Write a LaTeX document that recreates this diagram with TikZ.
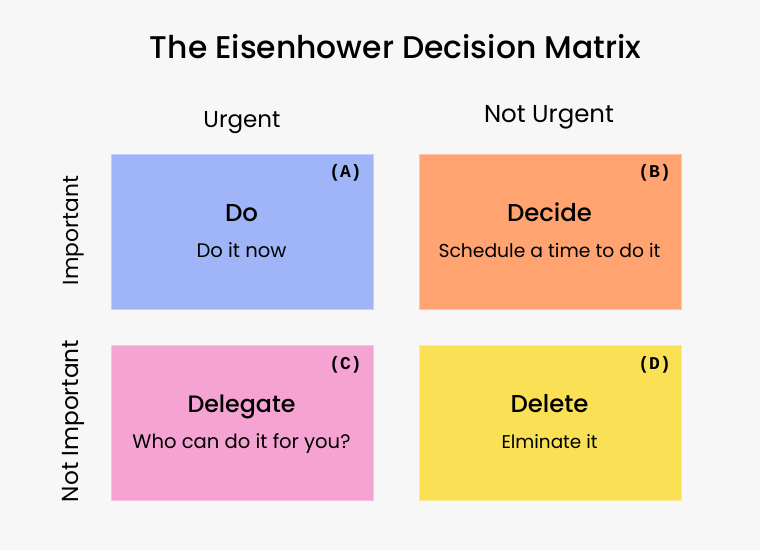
\documentclass[tikz,border=0pt]{standalone}
\usepackage{fontspec}
\usepackage{graphicx}
\setmainfont{Poppins}
\newfontfamily\medfnt{Poppins Medium}
\newfontfamily\monofnt{Liberation Mono}
\definecolor{bgcol}{HTML}{F7F7F7}
\definecolor{qa}{HTML}{A0B5F8}
\definecolor{qb}{HTML}{FFA470}
\definecolor{qc}{HTML}{F5A3D3}
\definecolor{qd}{HTML}{FAE055}
\newcommand\fitw[2]{\resizebox{#1}{!}{#2}}
\begin{document}
\begin{tikzpicture}[x=1pt,y=-1pt,
  quad/.style={draw=#1!65!white, fill=#1, line width=1pt, minimum width=262pt,
     minimum height=155pt, inner sep=0pt, anchor=north west},
  txt/.style={inner sep=0pt, anchor=base, text=black},
  tag/.style={inner sep=0pt, anchor=base east, text=black, font=\monofnt\bfseries\fontsize{18}{18}\selectfont},
  side/.style={inner sep=0pt, rotate=90, text=black}]
\fill[bgcol] (0,0) rectangle (760,550);
\useasboundingbox (0,0) rectangle (760,550);
% title
\node[txt] (title) at (395.5,58.3) {\fitw{491pt}{\medfnt\fontsize{30}{30}\selectfont The Eisenhower Decision Matrix}};
\node[txt] (urg) at (242,127) {\fitw{77pt}{\fontsize{20}{20}\selectfont Urgent}};
\node[txt] (nurg) at (549,122) {\fitw{130pt}{\fontsize{20}{20}\selectfont Not Urgent}};
\node[side] (imp) at (73.5,230.5) {\fitw{109pt}{\fontsize{20}{20}\selectfont Important}};
\node[side] (nimp) at (73.5,421) {\fitw{162pt}{\fontsize{20}{20}\selectfont Not Important}};
% quadrants
\node[quad=qa] (A) at (110.5,153.5) {};
\node[quad=qb] (B) at (418.5,153.5) {};
\node[quad=qc] (C) at (110.5,344.5) {};
\node[quad=qd] (D) at (418.5,344.5) {};
% tags
\node[tag] (tA) at (362,177.5) {(A)};
\node[tag] (tB) at (671,177.5) {(B)};
\node[tag] (tC) at (362,369) {(C)};
\node[tag] (tD) at (671,369) {(D)};
% heads
\node[txt] (hA) at (241.5,221.2) {\fitw{33pt}{\medfnt\fontsize{22}{22}\selectfont Do}};
\node[txt] (hB) at (549.5,221.2) {\fitw{85pt}{\medfnt\fontsize{22}{22}\selectfont Decide}};
\node[txt] (hC) at (241.5,412.2) {\fitw{108pt}{\medfnt\fontsize{22}{22}\selectfont Delegate}};
\node[txt] (hD) at (549.5,412.2) {\fitw{78pt}{\medfnt\fontsize{22}{22}\selectfont Delete}};
% subtitles
\node[txt] (sA) at (241.5,257.5) {\fitw{90pt}{\fontsize{18}{18}\selectfont Do it now}};
\node[txt] (sB) at (549.5,257.5) {\fitw{222pt}{\fontsize{18}{18}\selectfont Schedule a time to do it}};
\node[txt] (sC) at (241.5,448.8) {\fitw{218pt}{\fontsize{18}{18}\selectfont Who can do it for you?}};
\node[txt] (sD) at (549.5,448.8) {\fitw{96pt}{\fontsize{18}{18}\selectfont Elminate it}};
\end{tikzpicture}
\end{document}
